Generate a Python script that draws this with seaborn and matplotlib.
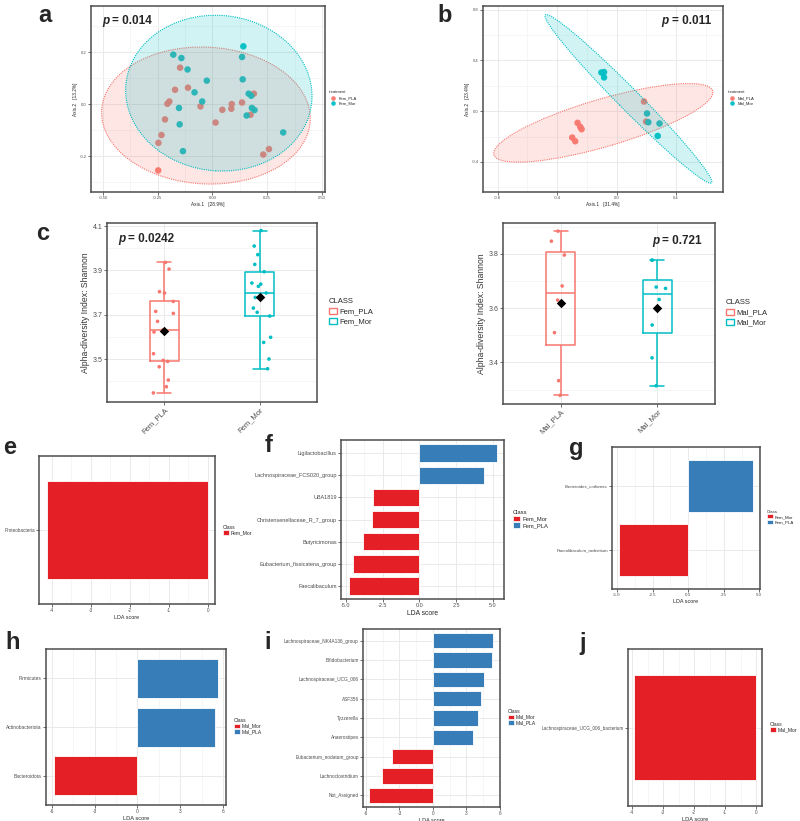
# -----------------------------
# Setup
# -----------------------------
import numpy as np
import pandas as pd
import matplotlib
matplotlib.use("Agg")
import matplotlib.pyplot as plt
from matplotlib.patches import Ellipse, Patch
from matplotlib.ticker import FixedLocator
import seaborn as sns

sns.set_style("white")
plt.rcParams["font.family"] = ["Liberation Sans", "DejaVu Sans"]

# -----------------------------
# Data
# -----------------------------
# (a) PCoA, females
fem_pla_axis1 = [-0.148, -0.171, -0.112, 0.189, -0.197, -0.206, 0.135, 0.088, -0.055, 0.045,
                 0.086, -0.217, 0.014, 0.174, -0.233, -0.247, 0.258, 0.232, -0.248]
fem_pla_axis2 = [0.140, 0.055, 0.063, 0.040, 0.010, 0.001, 0.006, 0.000, -0.009, -0.022,
                 -0.018, -0.059, -0.071, -0.041, -0.119, -0.149, -0.173, -0.194, -0.255]
fem_mor_axis1 = [0.141, -0.179, -0.142, 0.135, -0.114, -0.026, 0.138, -0.082, 0.165, 0.177,
                 -0.047, -0.153, 0.180, 0.192, 0.156, -0.150, 0.323, -0.135]
fem_mor_axis2 = [0.222, 0.190, 0.177, 0.181, 0.133, 0.090, 0.095, 0.045, 0.040, 0.032,
                 0.010, -0.015, -0.015, -0.023, -0.044, -0.078, -0.109, -0.181]
# ellipse: centre x, centre y, width, height, angle
ellipse_fem_pla = [-0.030, -0.044, 0.954, 0.526, -2]
ellipse_fem_mor = [0.029, 0.042, 0.852, 0.598, -3]

# (b) PCoA, males
mal_pla_axis1 = [0.184, 0.198, -0.263, -0.245, -0.236, -0.299, -0.279]
mal_pla_axis2 = [0.076, -0.082, -0.092, -0.124, -0.142, -0.208, -0.237]
mal_mor_axis1 = [-0.103, -0.085, -0.085, 0.204, 0.213, 0.288, 0.276]
mal_mor_axis2 = [0.305, 0.308, 0.266, -0.018, -0.087, -0.097, -0.195]
ellipse_mal_pla = [-0.090, -0.092, 1.556, 0.370, 19.2]
ellipse_mal_mor = [0.079, 0.097, 1.732, 0.155, -49.9]

# (c) Shannon index
fem_pla_shannon = [3.936, 3.906, 3.804, 3.798, 3.760, 3.706, 3.715, 3.670, 3.622, 3.631,
                   3.524, 3.494, 3.489, 3.465, 3.405, 3.375, 3.347]
fem_mor_shannon = [4.080, 4.010, 3.971, 3.927, 3.894, 3.828, 3.843, 3.838, 3.798, 3.778,
                   3.730, 3.711, 3.694, 3.598, 3.575, 3.500, 3.456]
mal_pla_shannon = [3.884, 3.847, 3.796, 3.682, 3.630, 3.510, 3.333, 3.279]
mal_mor_shannon = [3.777, 3.777, 3.678, 3.673, 3.632, 3.538, 3.417, 3.314]

# (e-j) LEfSe LDA scores
e_taxa = ["Proteobacteria"]
e_lda = [-4.12]
e_class = ["Fem_Mor"]

f_taxa = ["Ligilactobacillus", "Lachnospiraceae_FCS020_group", "UBA1819",
          "Christensenellaceae_R_7_group", "Butyricimonas", "Eubacterium_fissicatena_group",
          "Faecalibaculum"]
f_lda = [5.27, 4.39, -3.13, -3.20, -3.81, -4.50, -4.80]
f_class = ["Fem_PLA", "Fem_PLA", "Fem_Mor", "Fem_Mor", "Fem_Mor", "Fem_Mor", "Fem_Mor"]

g_taxa = ["Bacteroides_uniformis", "Faecalibaculum_rodentium"]
g_lda = [4.57, -4.83]
g_class = ["Fem_PLA", "Fem_Mor"]

h_taxa = ["Firmicutes", "Actinobacteriota", "Bacteroidota"]
h_lda = [5.68, 5.42, -5.85]
h_class = ["Mal_PLA", "Mal_PLA", "Mal_Mor"]

i_taxa = ["Lachnospiraceae_NK4A136_group", "Bifidobacterium", "Lachnospiraceae_UCG_006",
          "ASF356", "Tyzzerella", "Anaerostipes", "Eubacterium_nodatum_group",
          "Lachnoclostridium", "Not_Assigned"]
i_lda = [5.38, 5.31, 4.60, 4.30, 4.04, 3.62, -3.71, -4.60, -5.70]
i_class = ["Mal_PLA"] * 6 + ["Mal_Mor"] * 3

j_taxa = ["Lachnospiraceae_UCG_006_bacterium"]
j_lda = [-3.95]
j_class = ["Mal_Mor"]

# Colours
gg_red, gg_teal = "#F8766D", "#00BFC4"
group_colors = {"Fem_PLA": gg_red, "Fem_Mor": gg_teal, "Mal_PLA": gg_red, "Mal_Mor": gg_teal}
lda_colors = {"Fem_Mor": "#E41F26", "Mal_Mor": "#E41F26", "Fem_PLA": "#377EB8", "Mal_PLA": "#377EB8"}

# -----------------------------
# Figure helpers
# -----------------------------
W, H = 800, 821
fig = plt.figure(figsize=(W / 100, H / 100), dpi=100)
fig.patch.set_facecolor("white")


def add_ax(left, top, right, bottom):
    return fig.add_axes([left / W, 1 - bottom / H, (right - left) / W, (bottom - top) / H])


def fig_xy(x, y):
    return (x / W, 1 - y / H)


def gg_frame(ax, size):
    for s in ax.spines.values():
        s.set_visible(True)
        s.set_color("#4D4D4D")
        s.set_linewidth(1.1)
    ax.set_facecolor("white")
    ax.grid(which="major", color="#E6E6E6", lw=0.6)
    ax.grid(which="minor", color="#F0F0F0", lw=0.4)
    ax.set_axisbelow(True)
    ax.tick_params(which="major", bottom=True, left=True, length=2, width=0.5, color="#333333",
                   labelcolor="#4D4D4D", labelsize=size, pad=1)
    ax.tick_params(which="minor", length=0)


def midpoints(ticks):
    step = ticks[1] - ticks[0]
    return [t - step / 2 for t in ticks] + [ticks[-1] + step / 2]


def panel_letter(x, y, s):
    fig.text(*fig_xy(x, y), s, fontsize=17, fontweight="bold", ha="center", va="center")


def p_text(x, y, value):
    fig.text(*fig_xy(x, y), "p", fontsize=8.5, fontweight="bold", fontstyle="italic", ha="left", va="center")
    fig.text(*fig_xy(x + 10.5, y), "= " + value, fontsize=8.5, fontweight="bold", ha="left", va="center")


# -----------------------------
# (a, b) PCoA panels
# -----------------------------
def pcoa_panel(ax, df, levels, ellipses, xticks, xlabels, yticks, ylabels, xlim, ylim, xlabel, ylabel, legend_xy):
    sns.scatterplot(data=df, x="Axis1", y="Axis2", hue="treatment", hue_order=levels,
                    palette=group_colors, s=22, linewidth=0, alpha=0.95, ax=ax, zorder=2)
    for lev, (cx, cy, w, h, ang) in zip(levels, ellipses):
        col = group_colors[lev]
        ax.add_patch(Ellipse((cx, cy), w, h, angle=ang, facecolor=col, alpha=0.18, edgecolor="none", zorder=3))
        ax.add_patch(Ellipse((cx, cy), w, h, angle=ang, facecolor="none", edgecolor=col,
                             lw=0.8, ls=(0, (1, 1)), zorder=3))
    ax.set_xlim(xlim)
    ax.set_ylim(ylim)
    ax.set_xticks(xticks)
    ax.set_xticklabels(xlabels)
    ax.set_yticks(yticks)
    ax.set_yticklabels(ylabels)
    ax.xaxis.set_minor_locator(FixedLocator(midpoints(xticks)))
    ax.yaxis.set_minor_locator(FixedLocator(midpoints(yticks)))
    gg_frame(ax, 3)
    ax.set_xlabel(xlabel, fontsize=3.4, labelpad=1.5)
    ax.set_ylabel(ylabel, fontsize=3.4, labelpad=1.5)
    sns.move_legend(ax, "center left", bbox_to_anchor=fig_xy(*legend_xy), bbox_transform=fig.transFigure,
                    title="treatment", frameon=False, fontsize=3, title_fontsize=3, markerscale=0.7,
                    handletextpad=0.2, labelspacing=0.4, borderpad=0, alignment="left")


df_a = pd.DataFrame({
    "Axis1": fem_pla_axis1 + fem_mor_axis1,
    "Axis2": fem_pla_axis2 + fem_mor_axis2,
    "treatment": ["Fem_PLA"] * len(fem_pla_axis1) + ["Fem_Mor"] * len(fem_mor_axis1),
})
ax_a = add_ax(91, 6, 325, 192)
pcoa_panel(ax_a, df_a, ["Fem_PLA", "Fem_Mor"], [ellipse_fem_pla, ellipse_fem_mor],
           [-0.5, -0.25, 0, 0.25, 0.5], ["-0.50", "-0.25", "0.00", "0.25", "0.50"],
           [-0.2, 0, 0.2], ["-0.2", "0.0", "0.2"], (-0.555, 0.514), (-0.338, 0.377),
           "Axis.1   [28.9%]", "Axis.2   [13.2%]", (327, 98))

df_b = pd.DataFrame({
    "Axis1": mal_pla_axis1 + mal_mor_axis1,
    "Axis2": mal_pla_axis2 + mal_mor_axis2,
    "treatment": ["Mal_PLA"] * len(mal_pla_axis1) + ["Mal_Mor"] * len(mal_mor_axis1),
})
ax_b = add_ax(483, 6, 723, 192)
pcoa_panel(ax_b, df_b, ["Mal_PLA", "Mal_Mor"], [ellipse_mal_pla, ellipse_mal_mor],
           [-0.8, -0.4, 0, 0.4], ["-0.8", "-0.4", "0.0", "0.4"],
           [-0.4, 0, 0.4, 0.8], ["-0.4", "0.0", "0.4", "0.8"], (-0.899, 0.715), (-0.637, 0.829),
           "Axis.1   [31.4%]", "Axis.2   [23.4%]", (726, 98))

# -----------------------------
# (c) Alpha diversity
# -----------------------------
def alpha_panel(ax, df, levels, yticks, ylim, legend_xy):
    sns.boxplot(data=df, x="CLASS", y="Shannon", hue="CLASS", order=levels, hue_order=levels,
                palette=group_colors, fill=False, width=0.3, linewidth=1.1, showfliers=False,
                legend=False, ax=ax)
    sns.stripplot(data=df, x="CLASS", y="Shannon", hue="CLASS", order=levels, hue_order=levels,
                  palette=group_colors, jitter=0.12, size=2.6, linewidth=0, legend=False, ax=ax, zorder=3)
    sns.pointplot(data=df, x="CLASS", y="Shannon", order=levels, estimator="mean", errorbar=None,
                  color="black", marker="D", linestyle="none", markersize=2.8, ax=ax, zorder=5)
    ax.set_xlim(-0.6, 1.6)
    ax.set_ylim(ylim)
    ax.set_yticks(yticks)
    ax.set_yticklabels([f"{t:.1f}" for t in yticks])
    ax.yaxis.set_minor_locator(FixedLocator(midpoints(yticks)))
    gg_frame(ax, 5)
    ax.tick_params(axis="x", labelsize=5.5)
    for lab in ax.get_xticklabels():
        lab.set_rotation(45)
        lab.set_ha("right")
        lab.set_rotation_mode("anchor")
    ax.set_xlabel("")
    ax.set_ylabel("Alpha-diversity Index: Shannon", fontsize=6.2, labelpad=2, color="#333333")
    handles = [Patch(facecolor="none", edgecolor=group_colors[lev], lw=1.0) for lev in levels]
    ax.legend(handles, levels, loc="center left", bbox_to_anchor=fig_xy(*legend_xy),
              bbox_transform=fig.transFigure, title="CLASS", frameon=False, fontsize=5.5,
              title_fontsize=5.5, handlelength=1.1, handleheight=0.9, handletextpad=0.3,
              labelspacing=0.3, borderpad=0, alignment="left")


np.random.seed(3)
df_c1 = pd.DataFrame({
    "CLASS": ["Fem_PLA"] * len(fem_pla_shannon) + ["Fem_Mor"] * len(fem_mor_shannon),
    "Shannon": fem_pla_shannon + fem_mor_shannon,
})
ax_c1 = add_ax(107, 223, 317, 402)
alpha_panel(ax_c1, df_c1, ["Fem_PLA", "Fem_Mor"], [3.5, 3.7, 3.9, 4.1], (3.306, 4.114), (325, 312))

df_c2 = pd.DataFrame({
    "CLASS": ["Mal_PLA"] * len(mal_pla_shannon) + ["Mal_Mor"] * len(mal_mor_shannon),
    "Shannon": mal_pla_shannon + mal_mor_shannon,
})
ax_c2 = add_ax(503, 223, 715, 404)
alpha_panel(ax_c2, df_c2, ["Mal_PLA", "Mal_Mor"], [3.4, 3.6, 3.8], (3.247, 3.914), (722, 313))

# -----------------------------
# (e-j) LEfSe bars
# -----------------------------
def lda_panel(ax, taxa, scores, classes, levels, xticks, xlabels, xlim, legend_xy,
              tick_fs=3.3, label_fs=4.0, legend_fs=3.6):
    df = pd.DataFrame({"Taxon": taxa, "LDA": scores, "Class": classes})
    sns.barplot(data=df, x="LDA", y="Taxon", hue="Class", hue_order=levels, palette=lda_colors,
                orient="h", dodge=False, width=0.8, errorbar=None, saturation=1,
                edgecolor="white", linewidth=0.6, ax=ax)
    ax.set_xlim(xlim)
    ax.set_ylim(len(taxa) - 1 + 0.6, -0.6)
    ax.set_xticks(xticks)
    ax.set_xticklabels(xlabels)
    ax.xaxis.set_minor_locator(FixedLocator(midpoints(xticks)))
    gg_frame(ax, tick_fs)
    ax.set_xlabel("LDA score", fontsize=label_fs, labelpad=1)
    ax.set_ylabel("")
    handles = [Patch(facecolor=lda_colors[lev], edgecolor="white", lw=0.5) for lev in levels]
    ax.legend(handles, levels, loc="center left", bbox_to_anchor=fig_xy(*legend_xy),
              bbox_transform=fig.transFigure, title="Class", frameon=False, fontsize=legend_fs,
              title_fontsize=legend_fs, handlelength=1.2, handleheight=1.0, handletextpad=0.4,
              labelspacing=0.15, borderpad=0, alignment="left")


ticks4 = [-4, -3, -2, -1, 0]
ticks4_lab = ["-4", "-3", "-2", "-1", "0"]
ticks5 = [-5, -2.5, 0, 2.5, 5]
ticks5_lab = ["-5.0", "-2.5", "0.0", "2.5", "5.0"]
ticks6 = [-6, -3, 0, 3, 6]
ticks6_lab = ["-6", "-3", "0", "3", "6"]

ax_e = add_ax(39, 456, 215, 604)
lda_panel(ax_e, e_taxa, e_lda, e_class, ["Fem_Mor"], ticks4, ticks4_lab, (-4.33, 0.18), (220, 530),
          label_fs=3.9)

ax_f = add_ax(341, 440, 504, 599)
lda_panel(ax_f, f_taxa, f_lda, f_class, ["Fem_Mor", "Fem_PLA"], ticks5, ticks5_lab, (-5.34, 5.75), (510, 519),
          tick_fs=4.0, label_fs=4.9, legend_fs=4.2)

ax_g = add_ax(612, 447, 760, 589)
lda_panel(ax_g, g_taxa, g_lda, g_class, ["Fem_Mor", "Fem_PLA"], ticks5, ticks5_lab, (-5.35, 5.05), (765, 517),
          tick_fs=3.2, label_fs=3.9, legend_fs=3.2)

ax_h = add_ax(46, 649, 226, 805)
lda_panel(ax_h, h_taxa, h_lda, h_class, ["Mal_Mor", "Mal_PLA"], ticks6, ticks6_lab, (-6.42, 6.21), (231, 726),
          tick_fs=3.5, label_fs=4.1, legend_fs=3.6)

ax_i = add_ax(363, 629, 500, 807)
lda_panel(ax_i, i_taxa, i_lda, i_class, ["Mal_Mor", "Mal_PLA"], ticks6, ticks6_lab, (-6.27, 6.03), (505, 717),
          tick_fs=3.4, label_fs=4.0, legend_fs=3.6)

ax_j = add_ax(628, 649, 762, 806)
lda_panel(ax_j, j_taxa, j_lda, j_class, ["Mal_Mor"], ticks4, ticks4_lab, (-4.13, 0.19), (767, 727),
          tick_fs=3.3, label_fs=4.1, legend_fs=3.6)

# -----------------------------
# Annotations
# -----------------------------
p_text(102, 21, "0.014")
p_text(661, 21, "0.011")
p_text(118, 239, "0.0242")
p_text(652, 241, "0.721")

for x, y, s in [(45, 15, "a"), (445, 15, "b"), (43, 233, "c"), (10, 447, "e"), (269, 445, "f"),
                (576, 448, "g"), (13, 642, "h"), (268, 642, "i"), (583, 643, "j")]:
    panel_letter(x, y, s)

fig.savefig("out.png", dpi=100, facecolor="white")
